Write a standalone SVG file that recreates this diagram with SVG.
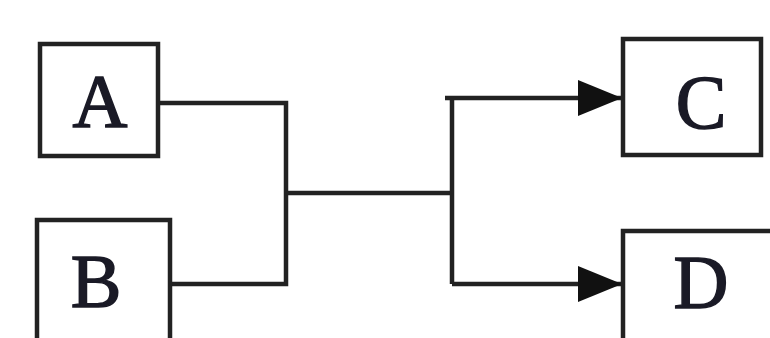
<svg xmlns="http://www.w3.org/2000/svg" width="770" height="338" viewBox="0 0 770 338">
<style>
.box{fill:#fff;stroke:#222;stroke-width:4.5}
.lbl{font-family:"Liberation Serif","Times New Roman",serif;font-size:76px;fill:#1a1a26;stroke:#1a1a26;stroke-width:1.5;text-anchor:middle}
.ln{fill:none;stroke:#222;stroke-width:4.5}
</style>
<defs>
<marker id="ah" markerUnits="userSpaceOnUse" markerWidth="46" markerHeight="38" refX="44" refY="18" orient="auto">
<path d="M0,0 L44,18 L0,36 Z" fill="#111"/>
</marker>
</defs>
<rect width="770" height="338" fill="#fff"/>
<g id="connectors">
<polyline class="ln" points="160,103 286,103 286,284 163,284"/>
<line class="ln" x1="286" y1="193" x2="452" y2="193"/>
<line class="ln" x1="452" y1="98" x2="452" y2="284"/>
<line class="ln" x1="445" y1="98" x2="622" y2="98" marker-end="url(#ah)"/>
<line class="ln" x1="452" y1="284" x2="622" y2="284" marker-end="url(#ah)"/>
</g>
<g id="nodeA"><rect class="box" x="40" y="44" width="118" height="112"/><text class="lbl" x="100" y="127">A</text></g>
<g id="nodeB"><rect class="box" x="37" y="220" width="133" height="130"/><text class="lbl" x="96" y="307">B</text></g>
<g id="nodeC"><rect class="box" x="623" y="39" width="138" height="116"/><text class="lbl" x="701" y="128">C</text></g>
<g id="nodeD"><rect class="box" x="623" y="231" width="160" height="120"/><text class="lbl" x="701" y="308">D</text></g>
</svg>
